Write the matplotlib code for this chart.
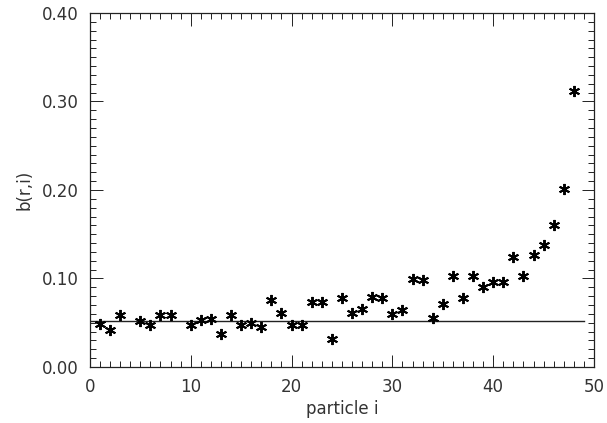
import matplotlib
matplotlib.use("Agg")
import matplotlib.pyplot as plt
from matplotlib.ticker import MultipleLocator, FormatStrFormatter

# particle index and b(r,i) values
particle = [1, 2, 3, 5, 6, 7, 8, 10, 11, 12, 13, 14, 15, 16, 17, 18, 19, 20,
            21, 22, 23, 24, 25, 26, 27, 28, 29, 30, 31, 32, 33, 34, 35, 36,
            37, 38, 39, 40, 41, 42, 43, 44, 45, 46, 47, 48]
b_ri = [0.049, 0.042, 0.059, 0.052, 0.048, 0.059, 0.059, 0.047, 0.053,
        0.054, 0.037, 0.059, 0.047, 0.050, 0.045, 0.076, 0.061, 0.048,
        0.048, 0.074, 0.073, 0.032, 0.078, 0.061, 0.066, 0.079, 0.078,
        0.060, 0.064, 0.099, 0.098, 0.055, 0.071, 0.103, 0.078, 0.103,
        0.090, 0.096, 0.096, 0.124, 0.103, 0.127, 0.138, 0.160, 0.201, 0.312]
ref_x = [0, 49]
ref_level = [0.0523, 0.0523]

plt.rcParams["font.family"] = ["DejaVu Sans"]

fig = plt.figure(figsize=(6.07, 4.23), dpi=100)
ax = fig.add_axes([0.148, 0.1324, 0.8306, 0.8369])

ax.plot(ref_x, ref_level, color="#222222", lw=1.0)
ax.plot(particle, b_ri, ls="none", marker=(6, 2, 0), ms=8, mew=1.4, color="black")

ax.set_xlim(0, 50)
ax.set_ylim(0, 0.40)
ax.xaxis.set_major_locator(MultipleLocator(10))
ax.xaxis.set_minor_locator(MultipleLocator(1))
ax.yaxis.set_major_locator(MultipleLocator(0.1))
ax.yaxis.set_minor_locator(MultipleLocator(0.01))
ax.yaxis.set_major_formatter(FormatStrFormatter("%.2f"))

ax.tick_params(which="both", direction="in", top=True, right=True,
               labelsize=12, color="#222222", labelcolor="#333333", width=0.7)
ax.tick_params(which="major", length=9, pad=8)
ax.tick_params(which="minor", length=4.5)
for s in ax.spines.values():
    s.set_linewidth(0.9)
    s.set_color("#222222")

ax.set_xlabel("particle i", fontsize=12, color="#333333", labelpad=3)
ax.set_ylabel("b(r,i)", fontsize=12, color="#333333", labelpad=6)

fig.savefig("out.png", dpi=100)
